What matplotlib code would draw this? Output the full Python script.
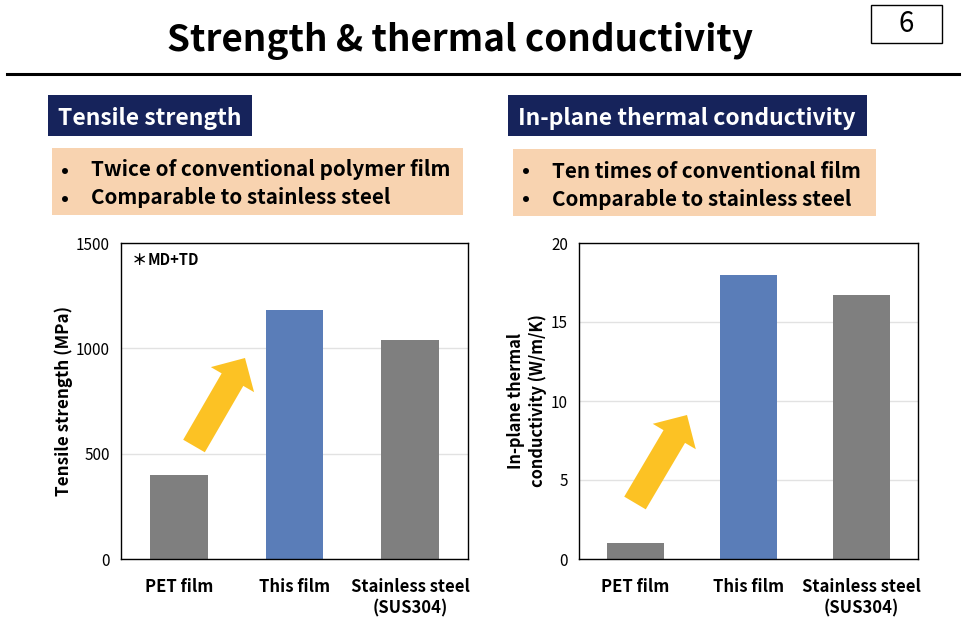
import matplotlib.pyplot as plt
from matplotlib.patches import FancyArrow, Rectangle

plt.rcParams["font.family"] = ["Noto Sans CJK JP", "DejaVu Sans"]
plt.rcParams["font.weight"] = "bold"

# 1. Values
names = ["PET film", "This film", "Stainless steel\n(SUS304)"]
strength = [400, 1180, 1040]
conductivity = [1.0, 18.0, 16.7]
bar_colors = ["#7f7f7f", "#5a7db8", "#7f7f7f"]
W, H = 963, 628

fig = plt.figure(figsize=(W / 100, H / 100), dpi=100)

# 2. Slide layer, in pixels of the page
page = fig.add_axes([0, 0, 1, 1], zorder=3)
page.set_xlim(0, W)
page.set_ylim(H, 0)
page.axis("off")

page.text(460, 41, "Strength & thermal conductivity", fontsize=26.5, ha="center", va="center")
page.plot([7, 959], [74, 74], color="black", lw=2.2)
page.add_patch(Rectangle((871, 5), 71, 38, fc="white", ec="black", lw=1))
page.text(906, 24, "6", fontsize=20, ha="center", va="center", fontweight="normal")

# headers
page.add_patch(Rectangle((48, 95), 204, 41, fc="#16235b", ec="none"))
page.text(58, 118, "Tensile strength", fontsize=16.5, color="white", va="center")
page.add_patch(Rectangle((508, 95), 359, 41, fc="#16235b", ec="none"))
page.text(518, 118, "In-plane thermal conductivity", fontsize=16.5, color="white", va="center")

# orange boxes
page.add_patch(Rectangle((52, 148), 411, 67, fc="#f8d3b0", ec="none"))
page.text(61, 170, "•", fontsize=15, va="center")
page.text(91, 170, "Twice of conventional polymer film", fontsize=14.9, va="center")
page.text(61, 198, "•", fontsize=15, va="center")
page.text(91, 198, "Comparable to stainless steel", fontsize=14.9, va="center")
page.add_patch(Rectangle((513, 149), 363, 67, fc="#f8d3b0", ec="none"))
page.text(522, 171, "•", fontsize=15, va="center")
page.text(552, 171, "Ten times of conventional film", fontsize=14.9, va="center")
page.text(522, 199, "•", fontsize=15, va="center")
page.text(552, 199, "Comparable to stainless steel", fontsize=14.9, va="center")

# 3. Left chart
ax1 = fig.add_axes([121 / W, 1 - 559 / H, 347 / W, 316 / H])
ax1.bar(names, strength, width=0.5, color=bar_colors, zorder=2)
ax1.set_xlim(-0.5, 2.5)
ax1.set_ylim(0, 1500)
ax1.set_yticks([0, 500, 1000, 1500])
ax1.set_ylabel("Tensile strength (MPa)", fontsize=12.3, labelpad=2, fontweight="bold")
ax1.text(0.03, 0.945, "＊", fontsize=11, transform=ax1.transAxes, va="center")
ax1.text(0.078, 0.945, "MD+TD", fontsize=10.5, transform=ax1.transAxes, va="center")

# 4. Right chart
ax2 = fig.add_axes([579 / W, 1 - 559 / H, 339 / W, 316 / H])
ax2.bar(names, conductivity, width=0.5, color=bar_colors, zorder=2)
ax2.set_xlim(-0.5, 2.5)
ax2.set_ylim(0, 20)
ax2.set_yticks([0, 5, 10, 15, 20])
ax2.set_ylabel("In-plane thermal\nconductivity (W/m/K)", fontsize=11.8, labelpad=3, linespacing=1.2, fontweight="bold")

for ax in [ax1, ax2]:
    ax.grid(axis="y", color="#e2e2e2", lw=1, zorder=1)
    ax.tick_params(axis="both", length=0)
    ax.tick_params(axis="x", labelsize=12, pad=14)
    ax.tick_params(axis="y", labelsize=11, pad=8)
    plt.setp(ax.get_yticklabels(), fontweight="normal")
    plt.setp(ax.get_xticklabels(), linespacing=1.25)
    for spine in ax.spines.values():
        spine.set_color("black")
        spine.set_linewidth(1)

# 5. Yellow arrows
page.add_patch(FancyArrow(194, 446, 51, -88, width=25, head_width=50, head_length=25,
                          length_includes_head=True, color="#fcc224", lw=0))
page.add_patch(FancyArrow(635, 503, 52, -88, width=25, head_width=50, head_length=25,
                          length_includes_head=True, color="#fcc224", lw=0))

fig.savefig("out.png", dpi=100)
